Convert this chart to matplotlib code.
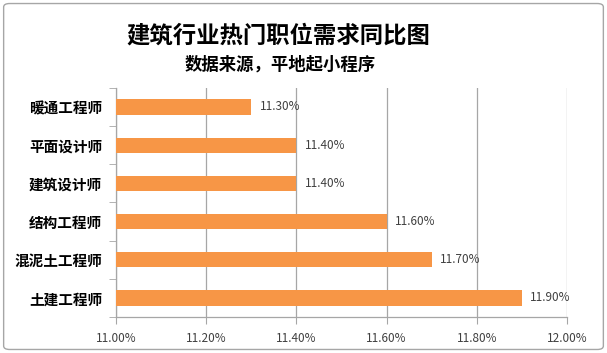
import matplotlib.pyplot as plt
from matplotlib.patches import FancyBboxPatch
from matplotlib.ticker import FuncFormatter, MultipleLocator

plt.rcParams['font.family'] = ['Noto Sans CJK SC', 'DejaVu Sans']

# data, bottom to top
jobs = ['土建工程师', '混泥土工程师', '结构工程师', '建筑设计师', '平面设计师', '暖通工程师']
pct = [11.9, 11.7, 11.6, 11.4, 11.4, 11.3]

fig = plt.figure(figsize=(6.07, 3.53), dpi=100)
ax = fig.add_axes([0.191, 0.102, 0.743, 0.649])

ypos = range(len(jobs))
ax.barh(ypos, pct, height=0.4, color='#F79646', zorder=3)
for y, v in zip(ypos, pct):
    ax.text(v + 0.019, y, f'{v:.2f}%', va='center', ha='left', fontsize=8.5, color='#404040')

ax.set_xlim(11.0, 12.0)
ax.set_ylim(-0.5, len(jobs) - 0.5)
ax.xaxis.set_major_locator(MultipleLocator(0.2))
ax.xaxis.set_major_formatter(FuncFormatter(lambda v, p: f'{v:.2f}%'))
ax.grid(axis='x', color='#a6a6a6', linewidth=0.9, zorder=0)

ax.set_yticks(list(ypos))
ax.set_yticklabels(jobs, fontsize=10.5, fontweight='bold', color='black')
ax.set_yticks([i - 0.5 for i in range(len(jobs) + 1)], minor=True)
ax.tick_params(axis='y', which='major', length=0, pad=10)
ax.tick_params(axis='y', which='minor', length=5, color='#a6a6a6', direction='out')
ax.tick_params(axis='x', length=5, color='#a6a6a6', labelsize=8.5, labelcolor='#404040', pad=6)

for s in ['top', 'right']:
    ax.spines[s].set_visible(False)
for s in ['left', 'bottom']:
    ax.spines[s].set_color('#a6a6a6')
    ax.spines[s].set_linewidth(0.9)

fig.text(0.458, 0.9, '建筑行业热门职位需求同比图', ha='center', va='center',
         fontsize=16.8, fontweight='bold', color='black')
fig.text(0.461, 0.818, '数据来源，平地起小程序', ha='center', va='center',
         fontsize=12.5, fontweight='bold', color='black')

border = FancyBboxPatch((0.006, 0.01), 0.988, 0.98, boxstyle='round,pad=0,rounding_size=0.01',
                        transform=fig.transFigure, fill=False, edgecolor='#a6a6a6', linewidth=1)
fig.patches.append(border)

fig.savefig('out.png', dpi=100)
